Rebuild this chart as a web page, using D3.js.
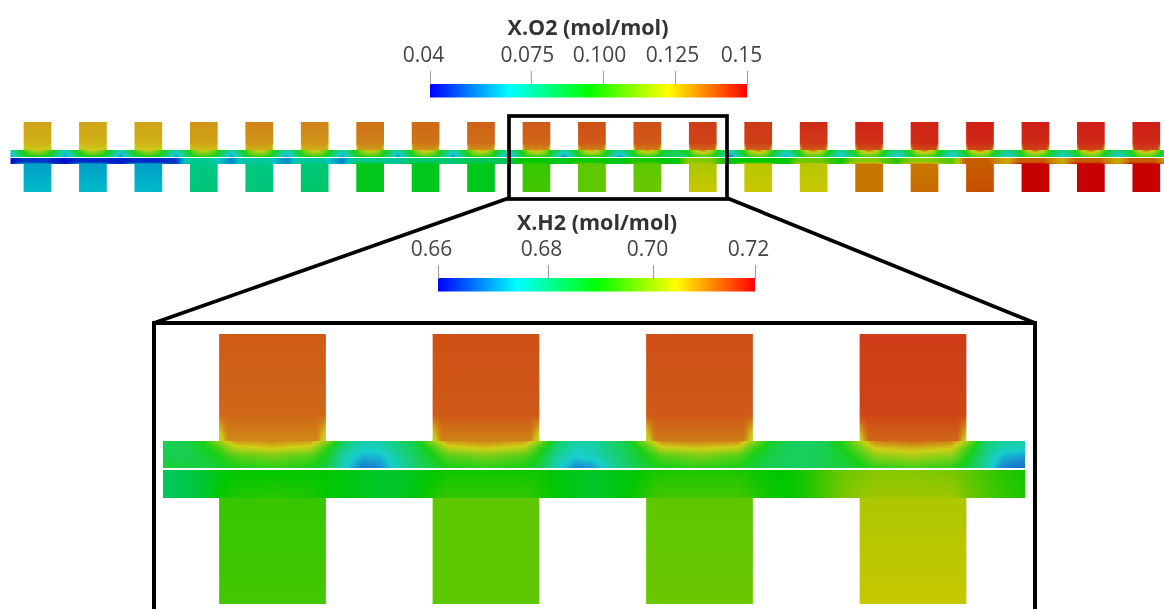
<meta charset="utf-8" />
<style>
	body { margin: 0; background: #fff; }
	svg { display: block; filter: blur(0.55px); }
	text { font-family: 'Open Sans', sans-serif; fill: #444; }
	.title { font-weight: 700; font-size: 21.5px; fill: #333; text-anchor: middle; }
	.tick text { font-size: 21px; }
	.tick line { stroke: #999; }
</style>
<svg width="1164" height="609"></svg>
<script src="https://cdn.jsdelivr.net/npm/d3@7"></script>
<script>
	// colour bars
	var o2Ticks = [0.04, 0.075, 0.1, 0.125, 0.15];
	var o2TickLabels = ['0.04', '0.075', '0.100', '0.125', '0.15'];
	var h2Ticks = [0.66, 0.68, 0.7, 0.72];
	var h2TickLabels = ['0.66', '0.68', '0.70', '0.72'];
	var barStops = [0, 0.25, 0.5, 0.75, 1];
	var barColors = ['#0000ff', '#00ffff', '#00ff00', '#ffff00', '#ff0000'];

	// X.O2 in the 21 upper ribs: top, three quarters down, base centre, base corners
	var o2RibTop = [0.129, 0.129, 0.129, 0.131, 0.134, 0.134, 0.1365, 0.138, 0.139, 0.14, 0.1415, 0.1415, 0.1445, 0.145, 0.147, 0.148, 0.148, 0.149, 0.149, 0.149, 0.149];
	var o2RibMid = [0.127, 0.127, 0.127, 0.129, 0.131, 0.131, 0.134, 0.136, 0.137, 0.138, 0.14, 0.14, 0.143, 0.144, 0.145, 0.146, 0.147, 0.147, 0.147, 0.147, 0.147];
	var o2RibBase = [0.123, 0.123, 0.123, 0.125, 0.127, 0.127, 0.13, 0.131, 0.132, 0.133, 0.134, 0.135, 0.138, 0.139, 0.14, 0.141, 0.142, 0.143, 0.143, 0.143, 0.143];
	var o2RibEdge = [0.112, 0.112, 0.112, 0.113, 0.113, 0.113, 0.114, 0.114, 0.114, 0.115, 0.115, 0.115, 0.118, 0.118, 0.119, 0.12, 0.12, 0.12, 0.12, 0.12, 0.12];

	// X.H2 in the 21 lower ribs
	var h2RibTop = [0.672, 0.672, 0.672, 0.68, 0.68, 0.681, 0.688, 0.688, 0.688, 0.694, 0.697, 0.697, 0.703, 0.704, 0.704, 0.711, 0.711, 0.713, 0.72, 0.72, 0.72];
	var h2RibBottom = [0.674, 0.674, 0.674, 0.681, 0.681, 0.682, 0.688, 0.688, 0.688, 0.695, 0.697, 0.698, 0.705, 0.705, 0.705, 0.711, 0.712, 0.714, 0.72, 0.72, 0.72];

	// overview upper channel, under each rib and in the gap to its right
	var o2LensMid = [0.112, 0.112, 0.112, 0.114, 0.116, 0.116, 0.116, 0.117, 0.117, 0.118, 0.118, 0.118, 0.12, 0.12, 0.12, 0.12, 0.12, 0.12, 0.12, 0.12, 0.12];
	var o2LensBottom = [0.095, 0.095, 0.095, 0.097, 0.099, 0.099, 0.099, 0.099, 0.099, 0.099, 0.098, 0.098, 0.102, 0.102, 0.102, 0.102, 0.102, 0.104, 0.104, 0.104, 0.104];
	var o2GapTop = [0.07, 0.07, 0.072, 0.073, 0.073, 0.073, 0.073, 0.073, 0.073, 0.073, 0.075, 0.085, 0.073, 0.074, 0.075, 0.076, 0.076, 0.078, 0.078, 0.078, 0.078];
	var o2GapMid = [0.065, 0.065, 0.066, 0.066, 0.066, 0.067, 0.066, 0.066, 0.066, 0.067, 0.068, 0.085, 0.066, 0.068, 0.07, 0.071, 0.071, 0.072, 0.073, 0.073, 0.073];
	var o2GapBottom = [0.058, 0.058, 0.058, 0.058, 0.058, 0.058, 0.057, 0.056, 0.056, 0.054, 0.056, 0.084, 0.054, 0.06, 0.063, 0.064, 0.064, 0.067, 0.068, 0.068, 0.068];

	// overview lower channel, top row under each rib and in the gap to its right
	var h2UnderRib = [0.664, 0.663, 0.663, 0.679, 0.678, 0.678, 0.68, 0.682, 0.683, 0.69, 0.691, 0.692, 0.7, 0.69, 0.698, 0.7, 0.7, 0.713, 0.713, 0.713, 0.713];
	var h2Gap = [0.661, 0.662, 0.664, 0.67, 0.67, 0.67, 0.678, 0.681, 0.683, 0.687, 0.687, 0.688, 0.689, 0.689, 0.691, 0.693, 0.696, 0.707, 0.707, 0.707, 0.706];

	// zoomed channels, sampled at zoomOffsets around ribs 9 to 12, closing value last
	var zoomRibs = [9, 10, 11, 12];
	var zoomOffsets = [-0.5, -0.42, -0.33, -0.25, -0.18, 0, 0.18, 0.25, 0.33, 0.42];
	var zoomO2A = [
		0.086, 0.088, 0.095, 0.115, 0.13, 0.133, 0.13, 0.115, 0.085, 0.073,
		0.073, 0.081, 0.09, 0.115, 0.131, 0.134, 0.131, 0.115, 0.085, 0.075,
		0.075, 0.081, 0.09, 0.115, 0.133, 0.135, 0.133, 0.115, 0.095, 0.085,
		0.084, 0.086, 0.097, 0.118, 0.134, 0.138, 0.134, 0.118, 0.085, 0.075, 0.073];
	var zoomO2B = [
		0.086, 0.086, 0.092, 0.102, 0.119, 0.124, 0.119, 0.1, 0.08, 0.07,
		0.071, 0.078, 0.086, 0.1, 0.119, 0.124, 0.119, 0.1, 0.08, 0.071,
		0.072, 0.08, 0.088, 0.102, 0.12, 0.124, 0.12, 0.102, 0.09, 0.084,
		0.084, 0.086, 0.095, 0.108, 0.124, 0.127, 0.124, 0.104, 0.082, 0.072, 0.07];
	var zoomO2C = [
		0.087, 0.086, 0.09, 0.095, 0.104, 0.11, 0.104, 0.095, 0.074, 0.064,
		0.064, 0.074, 0.085, 0.095, 0.104, 0.11, 0.104, 0.095, 0.076, 0.068,
		0.07, 0.078, 0.086, 0.095, 0.104, 0.11, 0.104, 0.095, 0.088, 0.085,
		0.085, 0.087, 0.092, 0.1, 0.112, 0.117, 0.112, 0.098, 0.08, 0.064, 0.06];
	var zoomO2D = [
		0.091, 0.09, 0.088, 0.091, 0.095, 0.099, 0.095, 0.088, 0.071, 0.054,
		0.057, 0.07, 0.082, 0.088, 0.095, 0.098, 0.095, 0.088, 0.072, 0.056,
		0.06, 0.072, 0.084, 0.09, 0.095, 0.098, 0.095, 0.09, 0.086, 0.084,
		0.084, 0.086, 0.088, 0.092, 0.098, 0.102, 0.098, 0.09, 0.075, 0.056, 0.052];
	var zoomH2Top = [
		0.683, 0.684, 0.686, 0.689, 0.69, 0.69, 0.69, 0.69, 0.689, 0.688,
		0.687, 0.687, 0.688, 0.69, 0.691, 0.691, 0.691, 0.691, 0.689, 0.688,
		0.687, 0.688, 0.689, 0.691, 0.692, 0.692, 0.692, 0.691, 0.69, 0.69,
		0.692, 0.695, 0.698, 0.699, 0.7, 0.7, 0.699, 0.697, 0.695, 0.693, 0.691];
	var zoomH2Bottom = [
		0.683, 0.684, 0.686, 0.69, 0.692, 0.693, 0.692, 0.69, 0.689, 0.688,
		0.687, 0.687, 0.689, 0.692, 0.694, 0.694, 0.694, 0.692, 0.69, 0.688,
		0.687, 0.688, 0.69, 0.693, 0.695, 0.695, 0.695, 0.693, 0.691, 0.69,
		0.692, 0.695, 0.699, 0.701, 0.702, 0.702, 0.702, 0.699, 0.696, 0.694, 0.692];

	var svg = d3.select('svg'),
		defs = svg.append('defs'),
		gradId = 0;

	var palette = d3.scaleLinear().domain(barStops).range(barColors);
	var o2Frac = d3.scaleLinear().domain([0.04, 0.15]).clamp(true);
	var h2Frac = d3.scaleLinear().domain([0.66, 0.72]).clamp(true);

	// the field is shaded darker than the bar; the O2 side is also a little washed out
	function o2Color(v) {
		var c = d3.rgb(palette(o2Frac(v)));
		return d3.rgb(c.r * 0.72 + 23, c.g * 0.72 + 23, c.b * 0.72 + 23).formatHex();
	}
	function h2Color(v) {
		var c = d3.rgb(palette(h2Frac(v)));
		return d3.rgb(c.r * 0.78, c.g * 0.78, c.b * 0.78).formatHex();
	}

	// paints a block one pixel row at a time, each row a horizontal gradient
	function drawField(x, stops, rows, rowYs, color, x0, x1) {
		var rowScales = rows.map(r => d3.scaleLinear().domain(stops).range(r).clamp(true));
		var px0 = x(x0), px1 = x(x1);
		var samples = d3.range(px0, px1, 2.5).concat([px1]);
		var ys = d3.range(rowYs[0], rowYs[rowYs.length - 1]);
		ys.forEach(y => {
			var id = 'f' + gradId++;
			var g = defs.append('linearGradient').attr('id', id)
				.attr('gradientUnits', 'userSpaceOnUse')
				.attr('x1', px0).attr('x2', px1).attr('y1', 0).attr('y2', 0);
			samples.forEach(p => {
				var u = x.invert(p);
				var v = d3.scaleLinear().domain(rowYs).range(rowScales.map(s => s(u)))(y + 0.5);
				g.append('stop').attr('offset', (p - px0) / (px1 - px0)).attr('stop-color', color(v));
			});
			svg.append('rect').attr('x', px0).attr('y', y)
				.attr('width', px1 - px0).attr('height', 1)
				.attr('fill', 'url(#' + id + ')');
		});
	}

	function drawRibs(x, upper, lower, ribIndexes) {
		ribIndexes.forEach(i => {
			var edge = o2RibEdge[i], base = o2RibBase[i];
			drawField(x, [i - 0.25, i - 0.21, i, i + 0.21, i + 0.25],
				[d3.range(5).map(() => o2RibTop[i]),
				 d3.range(5).map(() => o2RibMid[i]),
				 [edge, base, base, base, edge]],
				upper, o2Color, i - 0.25, i + 0.25);
			drawField(x, [i - 0.25, i + 0.25],
				[[h2RibTop[i], h2RibTop[i]], [h2RibBottom[i], h2RibBottom[i]]],
				lower, h2Color, i - 0.25, i + 0.25);
		});
	}

	// overview strip
	var ribs = d3.range(21);
	var stripX = d3.scaleLinear().domain([0, 20]).range([37.5, 1146.3]);
	var stripStops = [-0.5], stripA = [o2GapTop[0]], stripB = [o2GapMid[0]], stripC = [o2GapBottom[0]],
		stripD = [h2Gap[0]], stripE = [h2Gap[0]];
	ribs.forEach(i => {
		stripStops.push(i - 0.28, i - 0.15, i, i + 0.15, i + 0.28, i + 0.5);
		stripA.push(0.097, o2RibEdge[i], o2RibBase[i], o2RibEdge[i], 0.097, o2GapTop[i]);
		stripB.push(0.09, o2LensMid[i] - 0.006, o2LensMid[i], o2LensMid[i] - 0.006, 0.09, o2GapMid[i]);
		stripC.push(0.085, o2LensBottom[i] - 0.003, o2LensBottom[i], o2LensBottom[i] - 0.003, 0.085, o2GapBottom[i]);
		stripD.push(h2UnderRib[i], h2UnderRib[i], h2UnderRib[i], h2UnderRib[i], (h2UnderRib[i] + h2Gap[i]) / 2, h2Gap[i]);
		stripE.push(h2RibTop[i], h2RibTop[i], h2RibTop[i], h2RibTop[i], (h2RibTop[i] + h2Gap[i]) / 2, h2Gap[i]);
	});
	drawRibs(stripX, [122, 143, 150], [164, 192], ribs);
	drawField(stripX, stripStops, [stripA, stripB, stripC], [150, 153, 157], o2Color, -0.487, 20.32);
	// the lower channel keeps its own value almost down to the rib
	drawField(stripX, stripStops, [stripD, stripD, stripE], [158, 162, 164], h2Color, -0.487, 20.32);

	// zoomed panel
	var zoomX = d3.scaleLinear().domain([9, 12]).range([272.5, 913]);
	var zoomStops = zoomRibs.flatMap(r => zoomOffsets.map(o => r + o)).concat([12.53]);
	drawRibs(zoomX, [334, 415, 441], [497, 604], zoomRibs);
	drawField(zoomX, zoomStops, [zoomO2A, zoomO2B, zoomO2C, zoomO2D], [441, 448, 456, 468], o2Color, 8.487, 12.525);
	drawField(zoomX, zoomStops, [zoomH2Top, zoomH2Bottom], [470, 498], h2Color, 8.487, 12.525);

	// highlight box and the lines leading to the panel
	var outline = d3.line();
	svg.append('rect').attr('x', 509).attr('y', 116).attr('width', 218).attr('height', 83)
		.attr('fill', 'none').attr('stroke', '#000').attr('stroke-width', 3.7);
	[[[509, 198], [154, 323]], [[727, 198], [1035, 323]]].forEach(d => {
		svg.append('path').attr('d', outline(d)).attr('fill', 'none').attr('stroke', '#000').attr('stroke-width', 3.7);
	});
	svg.append('path').attr('d', outline([[154, 612], [154, 323], [1035, 323], [1035, 612]]))
		.attr('fill', 'none').attr('stroke', '#000').attr('stroke-width', 4);

	function drawBar(x0, x1, barY, title, titleX, titleY, scale, ticks, labels, dx) {
		var id = 'bar' + gradId++;
		defs.append('linearGradient').attr('id', id)
			.selectAll('stop').data(barStops).join('stop')
			.attr('offset', d => d)
			.attr('stop-color', d => palette(d));
		svg.append('rect').attr('x', x0).attr('y', barY)
			.attr('width', x1 - x0).attr('height', 13.5)
			.attr('fill', 'url(#' + id + ')');
		var axis = d3.axisTop(scale).tickValues(ticks).tickSize(14).tickPadding(9)
			.tickFormat((d, i) => labels[i]);
		var g = svg.append('g').attr('transform', 'translate(0,' + (barY + 1) + ')').call(axis);
		g.select('.domain').remove();
		g.selectAll('.tick text').attr('dx', (d, i) => dx[i]);
		svg.append('text').attr('class', 'title').attr('x', titleX).attr('y', titleY).text(title);
	}

	var o2Bar = d3.scaleLinear().domain([0.04, 0.15]).range([430, 747]);
	var h2Bar = d3.scaleLinear().domain(h2Ticks).range([438, 548, 653, 755]);
	drawBar(430, 747, 84, 'X.O2 (mol/mol)', 588, 35, o2Bar, o2Ticks, o2TickLabels, [-7, -4, -4, -3, -6]);
	drawBar(438, 755, 278, 'X.H2 (mol/mol)', 597, 230, h2Bar, h2Ticks, h2TickLabels, [-7, -7, -6, -7]);
</script>
